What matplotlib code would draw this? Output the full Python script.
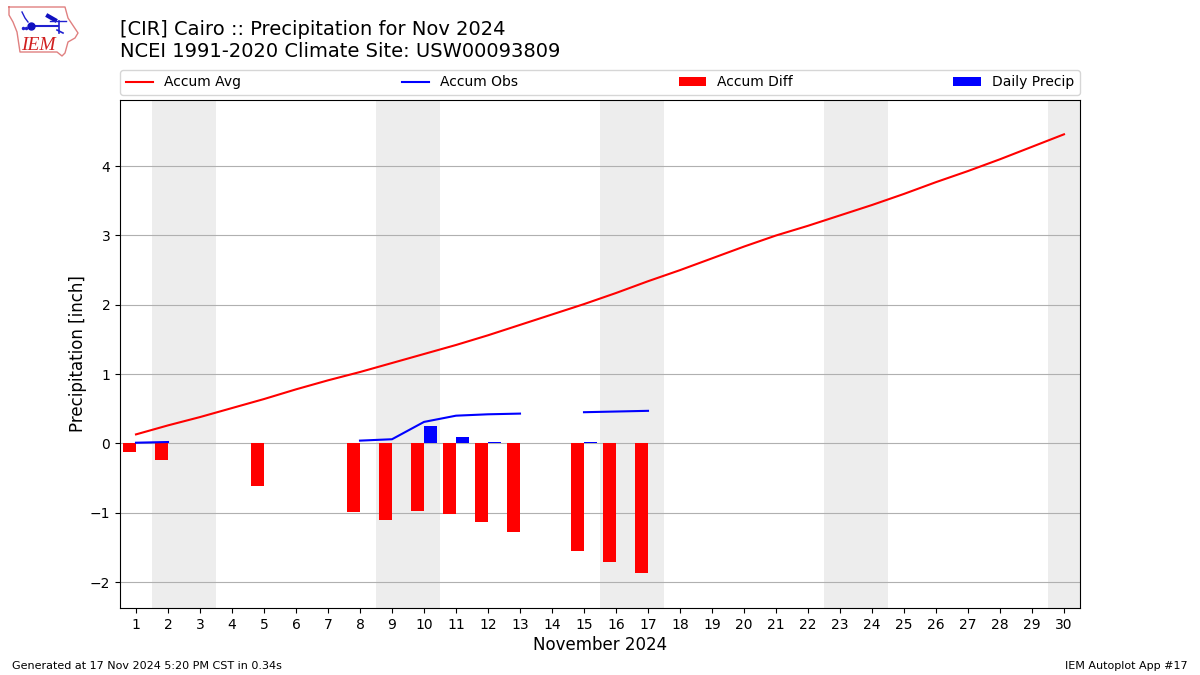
import numpy as np
import matplotlib
matplotlib.use("Agg")
import matplotlib.pyplot as plt

nan = float("nan")
days = list(range(1, 31))
accum_avg = [0.13, 0.26, 0.38, 0.51, 0.64, 0.78, 0.91, 1.03, 1.16, 1.29,
             1.42, 1.56, 1.71, 1.86, 2.01, 2.17, 2.34, 2.50, 2.67, 2.84,
             3.00, 3.14, 3.29, 3.44, 3.60, 3.77, 3.93, 4.10, 4.28, 4.46]
accum_obs = [0.01, 0.02, nan, nan, nan, nan, nan, 0.04, 0.06, 0.31,
             0.40, 0.42, 0.43, nan, 0.45, 0.46, 0.47, nan, nan, nan,
             nan, nan, nan, nan, nan, nan, nan, nan, nan, nan]
accum_diff = [-0.125, -0.24, nan, nan, -0.61, nan, nan, -0.99, -1.10, -0.97,
              -1.02, -1.13, -1.28, nan, -1.55, -1.71, -1.87, nan, nan, nan,
              nan, nan, nan, nan, nan, nan, nan, nan, nan, nan]
daily_precip = [0, 0, 0, 0, 0, 0, 0, 0, 0.01, 0.25,
                0.09, 0.02, 0, 0, 0.02, 0, 0, 0, 0, 0,
                0, 0, 0, 0, 0, 0, 0, 0, 0, 0]
weekend_days = [2, 3, 9, 10, 16, 17, 23, 24, 30]

W, H = 1200, 675
fig = plt.figure(figsize=(12, 6.75), dpi=100)
ax = fig.add_axes([120 / W, 1 - 608 / H, 960 / W, 508 / H])

for d in weekend_days:
    ax.axvspan(d - 0.5, d + 0.5, color="#ededed", lw=0, zorder=0)

ax.set_axisbelow(True)
ax.grid(axis="y", color="#b0b0b0", lw=0.8)

ax.plot(days, accum_avg, color="r", lw=1.5, label="Accum Avg", zorder=3)
ax.plot(days, accum_obs, color="b", lw=1.5, label="Accum Obs", zorder=3)
ax.bar(days, accum_diff, width=-0.4, align="edge", color="r", label="Accum Diff", zorder=2)
ax.bar(days, daily_precip, width=0.4, align="edge", color="b", label="Daily Precip", zorder=2)

ax.set_xlim(0.5, 30.5)
ax.set_ylim(-2.375, 4.955)
ax.set_xticks(days)
ax.set_yticks([-2, -1, 0, 1, 2, 3, 4])
ax.tick_params(labelsize=10)
ax.set_xlabel("November 2024", fontsize=12, labelpad=3)
ax.set_ylabel("Precipitation [inch]", fontsize=12, labelpad=2)

ax.legend(loc="lower left", bbox_to_anchor=(0, 1 + 5 / 508, 1, 0.05), mode="expand", ncol=4,
          borderaxespad=0, fontsize=10)

fig.text(120 / W, 1 - 61 / H, "[CIR] Cairo :: Precipitation for Nov 2024\nNCEI 1991-2020 Climate Site: USW00093809",
         fontsize=14, ha="left", va="bottom", linespacing=1.2)
fig.text(12 / W, 1 - 671 / H, "Generated at 17 Nov 2024 5:20 PM CST in 0.34s", fontsize=8, ha="left", va="bottom")
fig.text(1188 / W, 1 - 671 / H, "IEM Autoplot App #17", fontsize=8, ha="right", va="bottom")

# IEM logo, drawn in pixel coordinates of the reference
logo = fig.add_axes([0, 1 - 70 / H, 130 / W, 70 / H])
logo.set_xlim(0, 130)
logo.set_ylim(70, 0)
logo.axis("off")
outline_x = [9, 65, 68, 72, 78, 75, 68, 65, 62, 57, 20, 17, 13, 9, 9]
outline_y = [7, 7, 18, 24, 33, 38, 42, 53, 56, 52, 52, 32, 22, 15, 7]
logo.plot(outline_x, outline_y, color="#e08080", lw=1)
logo.plot([31, 58], [26, 26], color="#2020d0", lw=1.5)
logo.plot([22, 25, 28], [12, 18, 22], color="#2020d0", lw=1)
logo.plot([48, 55], [16, 20], color="#1010c0", lw=3)
logo.plot([50, 66], [21, 21], color="#2020d0", lw=1)
logo.plot([59, 59], [21, 33], color="#2020d0", lw=1.2)
logo.plot([57, 63], [30, 33], color="#2020d0", lw=1.2)
logo.plot([31], [26], marker="o", ms=5, color="#1010c0")
logo.plot([23, 26], [28, 28], ls="none", marker="o", ms=1.5, color="#2020d0")
logo.text(21, 45, "IEM", color="#d02020", fontsize=14, family="Liberation Serif",
          style="italic", ha="left", va="center")

fig.savefig("out.png", dpi=100)
